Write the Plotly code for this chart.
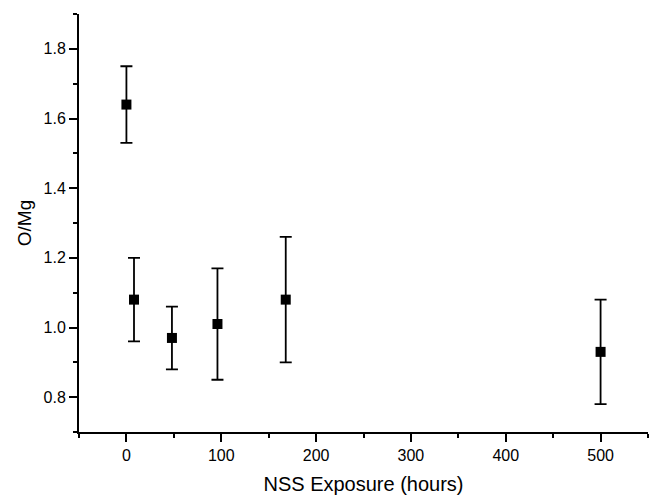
import plotly.graph_objects as go

hours = [0, 8, 48, 96, 168, 500]
o_mg = [1.64, 1.08, 0.97, 1.01, 1.08, 0.93]
err = [0.11, 0.12, 0.09, 0.16, 0.18, 0.15]

x_ticks = [0, 100, 200, 300, 400, 500]
y_ticks = [0.8, 1.0, 1.2, 1.4, 1.6, 1.8]

fig = go.Figure()
fig.add_trace(go.Scatter(
    x=hours, y=o_mg, mode="markers",
    marker=dict(symbol="square", size=10, color="black"),
    error_y=dict(type="data", array=err, visible=True, color="black", thickness=1.8, width=6),
    showlegend=False,
))

font = "Liberation Sans, Arial, sans-serif"
fig.update_layout(
    width=649, height=498,
    margin=dict(l=79, r=1, t=14, b=66),
    paper_bgcolor="white", plot_bgcolor="white",
    font=dict(family=font, color="black"),
    xaxis=dict(
        range=[-50, 550], tickvals=x_ticks, ticktext=[str(v) for v in x_ticks],
        showgrid=False, zeroline=False, showline=True, linecolor="black", linewidth=2,
        ticks="outside", ticklen=8, tickwidth=2, tickcolor="black",
        tickfont=dict(size=16, family=font),
        minor=dict(ticks="outside", ticklen=4, tickwidth=2, tickcolor="black", tick0=-50, dtick=50),
        title=dict(text="NSS Exposure (hours)", font=dict(size=20, family=font), standoff=14),
    ),
    yaxis=dict(
        range=[0.7, 1.9], tickvals=y_ticks, ticktext=[f"{v:.1f}" for v in y_ticks],
        showgrid=False, zeroline=False, showline=True, linecolor="black", linewidth=2,
        ticks="outside", ticklen=8, tickwidth=2, tickcolor="black",
        tickfont=dict(size=16, family=font),
        minor=dict(ticks="outside", ticklen=4, tickwidth=2, tickcolor="black", tick0=0.7, dtick=0.1),
        title=dict(text="O/Mg", font=dict(size=19, family=font), standoff=7),
    ),
)

fig.write_html("out.html")
